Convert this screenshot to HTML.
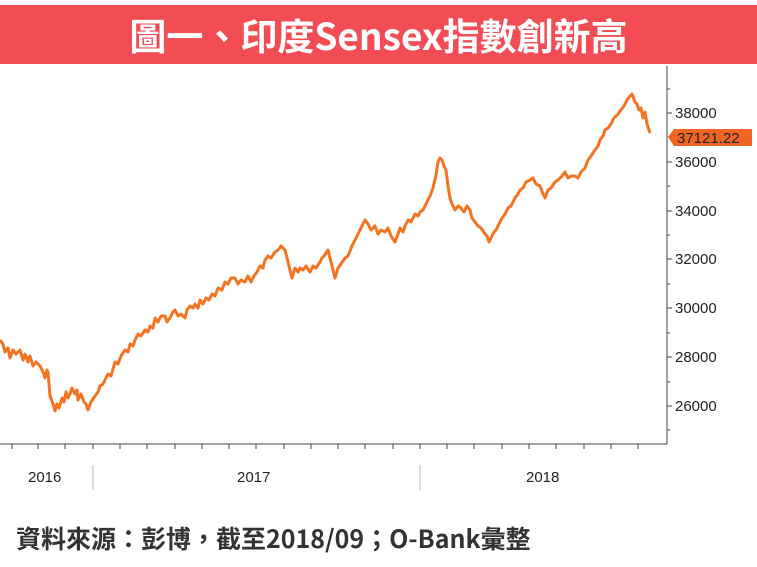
<!DOCTYPE html>
<html><head><meta charset="utf-8"><style>
body{margin:0;width:757px;height:567px;background:#fff;overflow:hidden;position:relative;font-family:"Noto Sans CJK TC",sans-serif}
.hd{position:absolute;left:0;top:5px;width:757px;height:59px;background:#f24c55;color:#fff;font-size:37px;font-weight:bold;text-align:center;line-height:59px;font-family:"Noto Sans CJK TC",sans-serif;white-space:nowrap}
.ft{position:absolute;left:16px;top:521px;font-size:25px;line-height:34px;font-weight:bold;color:#333;white-space:nowrap;font-family:"Noto Sans CJK TC",sans-serif}
</style></head><body>
<div class="hd">圖一、印度Sensex指數創新高</div>
<svg width="757" height="567" style="position:absolute;left:0;top:0">
<g stroke="#444" stroke-width="1" fill="none">
<line x1="667" y1="66" x2="667" y2="444"/>
<line x1="0" y1="444" x2="667" y2="444"/>
<line x1="93" y1="465" x2="93" y2="490" stroke="#bbb"/>
<line x1="420" y1="465" x2="420" y2="490" stroke="#bbb"/>
</g>
<g stroke="#444" stroke-width="1">
<line x1="12" y1="444" x2="12" y2="449"/><line x1="38" y1="444" x2="38" y2="449"/><line x1="65" y1="444" x2="65" y2="449"/><line x1="93" y1="444" x2="93" y2="449"/><line x1="120" y1="444" x2="120" y2="449"/><line x1="147" y1="444" x2="147" y2="449"/><line x1="175" y1="444" x2="175" y2="449"/><line x1="202" y1="444" x2="202" y2="449"/><line x1="229" y1="444" x2="229" y2="449"/><line x1="256" y1="444" x2="256" y2="449"/><line x1="284" y1="444" x2="284" y2="449"/><line x1="311" y1="444" x2="311" y2="449"/><line x1="338" y1="444" x2="338" y2="449"/><line x1="365" y1="444" x2="365" y2="449"/><line x1="393" y1="444" x2="393" y2="449"/><line x1="420" y1="444" x2="420" y2="449"/><line x1="447" y1="444" x2="447" y2="449"/><line x1="474" y1="444" x2="474" y2="449"/><line x1="502" y1="444" x2="502" y2="449"/><line x1="529" y1="444" x2="529" y2="449"/><line x1="556" y1="444" x2="556" y2="449"/><line x1="584" y1="444" x2="584" y2="449"/><line x1="611" y1="444" x2="611" y2="449"/><line x1="638" y1="444" x2="638" y2="449"/>
<line x1="667" y1="113" x2="672" y2="113"/><line x1="667" y1="162" x2="672" y2="162"/><line x1="667" y1="211" x2="672" y2="211"/><line x1="667" y1="259" x2="672" y2="259"/><line x1="667" y1="308" x2="672" y2="308"/><line x1="667" y1="357" x2="672" y2="357"/><line x1="667" y1="406" x2="672" y2="406"/>
<line x1="667" y1="89" x2="670" y2="89"/><line x1="667" y1="186" x2="670" y2="186"/><line x1="667" y1="235" x2="670" y2="235"/><line x1="667" y1="284" x2="670" y2="284"/><line x1="667" y1="333" x2="670" y2="333"/><line x1="667" y1="382" x2="670" y2="382"/><line x1="667" y1="430" x2="670" y2="430"/>
</g>
<g font-size="15" fill="#222" font-family="Liberation Sans,sans-serif">
<text x="675" y="118">38000</text><text x="675" y="167">36000</text><text x="675" y="216">34000</text><text x="675" y="264">32000</text><text x="675" y="313">30000</text><text x="675" y="362">28000</text><text x="675" y="411">26000</text>
<text x="28" y="482">2016</text><text x="237" y="482">2017</text><text x="526" y="482">2018</text>
</g>
<path d="M668,137 L674,129 L752,129 L752,146 L674,146 Z" fill="#f26522"/>
<text x="677" y="143" font-size="15" fill="#222" font-family="Liberation Sans,sans-serif">37121.22</text>
<polyline fill="none" stroke="#f47321" stroke-width="3" stroke-linejoin="round" points="0,340 3,344 5,352 8,348 10,358 13,350 16,354 20,350 23,360 25,354 28,362 30,356 33,366 36,362 40,366 43,372 45,378 47,370 48,372 50,396 53,404 55,411 57,404 59,408 62,398 64,402 66,392 68,398 70,394 72,388 75,394 77,390 78,400 81,394 84,402 86,404 88,410 91,402 95,396 98,392 100,386 103,384 105,380 108,374 111,376 115,362 118,364 121,356 125,350 128,352 130,344 133,346 135,340 138,334 141,336 145,330 148,332 150,326 153,328 155,318 158,322 161,316 165,316 167,322 170,318 173,312 175,310 178,316 181,314 185,318 187,310 190,306 193,308 195,304 198,308 200,300 203,304 206,298 209,300 212,294 215,296 218,288 222,290 225,282 228,284 231,278 235,278 238,284 241,280 245,282 248,276 251,282 254,276 257,272 260,266 263,268 265,260 268,256 271,258 275,252 278,250 281,246 285,250 288,262 292,278 295,268 298,272 300,268 303,270 306,266 310,272 313,266 316,268 320,262 322,258 324,256 328,250 331,262 335,278 338,268 341,264 345,258 348,256 352,246 355,240 358,234 361,228 365,220 368,224 371,230 375,226 378,234 381,230 385,232 388,228 391,236 395,242 398,234 400,228 403,232 405,226 408,220 411,222 415,214 418,216 420,212 423,210 426,204 430,196 433,188 436,175 438,162 440,158 442,160 444,166 446,170 448,186 450,198 452,204 455,210 458,206 461,208 464,212 467,206 470,210 472,218 475,222 478,226 481,228 485,234 487,236 489,242 491,238 494,232 496,230 499,224 502,218 505,214 508,208 511,206 515,198 518,194 520,190 523,188 526,182 530,180 533,178 536,184 540,186 543,194 545,198 548,190 551,188 555,182 558,180 562,176 565,172 568,178 571,176 575,176 578,178 581,172 585,168 588,160 591,156 595,150 598,146 600,140 603,136 605,130 608,128 611,124 614,118 618,114 621,110 624,106 627,100 630,96 632,94 635,102 637,104 639,110 641,108 643,118 645,112 647,124 649,130 650,133"/>
</svg>
<div class="ft">資料來源：彭博，截至2018/09；O-Bank彙整</div>
</body></html>
